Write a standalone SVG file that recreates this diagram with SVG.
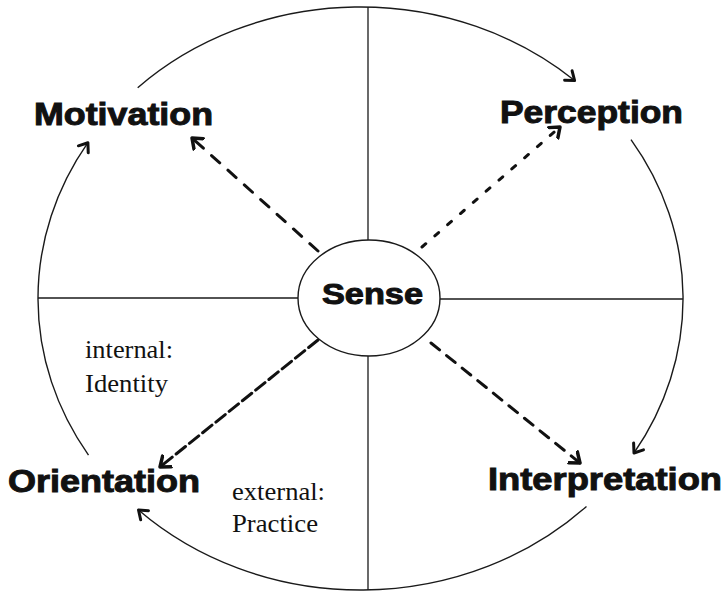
<svg xmlns="http://www.w3.org/2000/svg" width="726" height="591" viewBox="0 0 726 591">
<style>
.arc{fill:none;stroke:#1a1a1a;stroke-width:1.4}
.ln{fill:none;stroke:#1a1a1a;stroke-width:1.3}
.dash{fill:none;stroke:#111;stroke-width:3;stroke-linecap:round}
.big{font-family:"Liberation Sans",Arial,sans-serif;font-weight:bold;font-size:32px;fill:#111;stroke:#111;stroke-width:1}
.ser{font-family:"Liberation Serif","Times New Roman",serif;font-size:26px;fill:#111}
</style>
<defs>
<marker id="ah" markerUnits="userSpaceOnUse" markerWidth="20" markerHeight="20" refX="10" refY="10" orient="auto" viewBox="0 0 20 20">
<path d="M1,3 L10,10 L1,17" fill="none" stroke="#111" stroke-width="3.5" stroke-linecap="round" stroke-linejoin="round"/>
</marker>
<marker id="ah2" markerUnits="userSpaceOnUse" markerWidth="20" markerHeight="20" refX="10" refY="10" orient="auto" viewBox="0 0 20 20">
<path d="M2,4 L10,10 L2,16" fill="none" stroke="#111" stroke-width="3" stroke-linecap="round" stroke-linejoin="round"/>
</marker>
</defs>
<rect width="726" height="591" fill="#fff"/>
<g id="connectors">
<path class="arc" d="M137.7,87.7 A322.5,291.5 0 0 1 574.6,80.5" marker-end="url(#ah2)"/>
<path class="arc" d="M631,139.7 A322.5,291.5 0 0 1 634,453" marker-end="url(#ah2)"/>
<path class="arc" d="M586.5,506.4 A322.5,291.5 0 0 1 138.5,510" marker-end="url(#ah2)"/>
<path class="arc" d="M88.5,455.1 A322.5,291.5 0 0 1 87.9,142.7" marker-end="url(#ah2)"/>
<line class="ln" x1="368" y1="7" x2="368" y2="240"/>
<line class="ln" x1="368" y1="356" x2="368" y2="590"/>
<line class="ln" x1="38" y1="298" x2="298" y2="298"/>
<line class="ln" x1="440" y1="299" x2="683" y2="299"/>
<path class="dash" d="M318,251 L192,138" stroke-dasharray="11 11" marker-end="url(#ah)"/>
<path class="dash" d="M422,247 L560,127" stroke-dasharray="5 12" marker-end="url(#ah)"/>
<path class="dash" d="M431,343 L580,463" stroke-dasharray="11 9" marker-end="url(#ah)"/>
<path class="dash" d="M318,340 L160,467" stroke-dasharray="12 5" marker-end="url(#ah)"/>
</g>
<g id="sense">
<ellipse cx="369" cy="298" rx="71" ry="58" fill="#fff" stroke="#1a1a1a" stroke-width="1.4"/>
<text class="big" x="322" y="304" textLength="101" lengthAdjust="spacingAndGlyphs" style="font-size:30px">Sense</text>
</g>
<g id="motivation">
<text class="big" x="34" y="125" textLength="179" lengthAdjust="spacingAndGlyphs">Motivation</text>
</g>
<g id="perception">
<text class="big" x="500" y="123" textLength="183" lengthAdjust="spacingAndGlyphs">Perception</text>
</g>
<g id="interpretation">
<text class="big" x="488" y="490" textLength="234" lengthAdjust="spacingAndGlyphs">Interpretation</text>
</g>
<g id="orientation">
<text class="big" x="8" y="492" textLength="192" lengthAdjust="spacingAndGlyphs">Orientation</text>
</g>
<g id="internal">
<text class="ser" x="85" y="358" textLength="88" lengthAdjust="spacingAndGlyphs">internal:</text>
<text class="ser" x="85" y="392" textLength="83" lengthAdjust="spacingAndGlyphs">Identity</text>
</g>
<g id="external">
<text class="ser" x="232" y="500" textLength="93" lengthAdjust="spacingAndGlyphs">external:</text>
<text class="ser" x="232" y="532" textLength="86" lengthAdjust="spacingAndGlyphs">Practice</text>
</g>
</svg>
